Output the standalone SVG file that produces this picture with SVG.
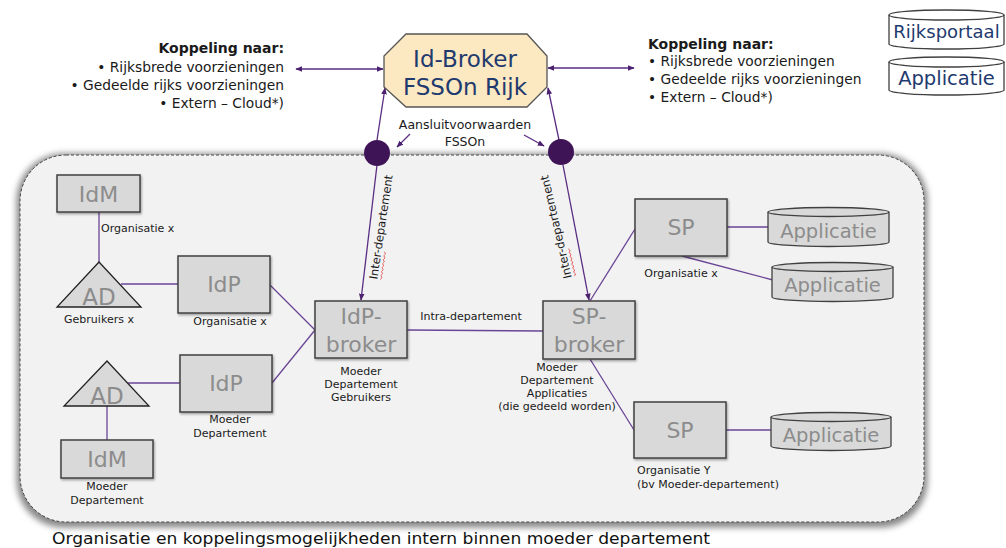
<svg xmlns="http://www.w3.org/2000/svg" width="1006" height="548" viewBox="0 0 1006 548">
<defs>
<filter id="sh" x="-5%" y="-5%" width="110%" height="115%">
<feMorphology in="SourceAlpha" operator="dilate" radius="3" result="d"/>
<feGaussianBlur in="d" stdDeviation="3" result="b"/>
<feOffset in="b" dx="0" dy="2" result="o"/>
<feFlood flood-color="#7a7a7a" flood-opacity="0.9"/>
<feComposite in2="o" operator="in" result="s"/>
<feMerge><feMergeNode in="s"/><feMergeNode in="SourceGraphic"/></feMerge>
</filter>
<filter id="bs" x="-10%" y="-10%" width="125%" height="130%">
<feDropShadow dx="1" dy="1.5" stdDeviation="1" flood-color="#000" flood-opacity="0.35"/>
</filter>
<marker id="ah" viewBox="0 0 10 10" refX="9" refY="5" markerWidth="7" markerHeight="7" orient="auto-start-reverse" markerUnits="userSpaceOnUse">
<path d="M0,1 L10,5 L0,9 Z" fill="#4B2170"/>
</marker>
</defs>
<style>
.box{fill:#D9D9D9;stroke:#404040;stroke-width:1.5;filter:url(#bs)}
.big{font-family:"DejaVu Sans",Verdana,sans-serif;font-size:22px;fill:#8C8C8C;text-anchor:middle}
.app{font-family:"DejaVu Sans",Verdana,sans-serif;font-size:19.5px;fill:#8C8C8C;text-anchor:middle}
.lbl{font-family:"DejaVu Sans",Verdana,sans-serif;font-size:11px;fill:#1a1a1a;text-anchor:middle}
.txt{font-family:"DejaVu Sans",Verdana,sans-serif;font-size:13.8px;fill:#1a1a1a}
.hd{font-weight:bold;font-size:14px}
.ln{stroke:#6A4596;stroke-width:1.3;fill:none}
.ar{stroke:#5A2D82;stroke-width:1.3;fill:none}
.cyl{fill:#D9D9D9;stroke:#404040;stroke-width:1.3}
.navy{font-family:"DejaVu Sans",Verdana,sans-serif;fill:#1F3A6E;text-anchor:middle}
.sq{stroke:#E04848;stroke-width:0.8;fill:none}
</style>

<!-- container -->
<rect id="container" x="20" y="155" width="904" height="367" rx="46" ry="46" fill="#F2F2F2" stroke="#444" stroke-width="1" stroke-dasharray="3,2" filter="url(#sh)"/>

<!-- top texts -->
<g id="left-text" class="txt" text-anchor="end">
<text class="hd" x="284" y="53">Koppeling naar:</text>
<text x="284" y="72">• Rijksbrede voorzieningen</text>
<text x="284" y="90">• Gedeelde rijks voorzieningen</text>
<text x="284" y="108">• Extern – Cloud*)</text>
</g>
<g id="right-text" class="txt">
<text class="hd" x="648" y="49">Koppeling naar:</text>
<text x="648" y="66">• Rijksbrede voorzieningen</text>
<text x="648" y="84">• Gedeelde rijks voorzieningen</text>
<text x="648" y="102">• Extern – Cloud*)</text>
</g>

<g id="legend-rijksportaal">
<path class="cyl" d="M889,15 L889,44 A57.5,5 0 0 0 1004,44 L1004,15" style="fill:#fff"/>
<ellipse cx="946.5" cy="15" rx="57.5" ry="5" fill="#fff" stroke="#404040" stroke-width="1.3"/>
<text class="navy" x="946.5" y="38" style="font-size:18px">Rijksportaal</text>
</g>
<g id="legend-applicatie">
<path class="cyl" d="M889,62 L889,90 A57.5,5 0 0 0 1004,90 L1004,62" style="fill:#fff"/>
<ellipse cx="946.5" cy="62" rx="57.5" ry="5" fill="#fff" stroke="#404040" stroke-width="1.3"/>
<text class="navy" x="946.5" y="85" style="font-size:19.5px">Applicatie</text>
</g>

<!-- connectors -->
<g id="connectors">
<line class="ar" x1="296" y1="69" x2="383" y2="69" marker-start="url(#ah)" marker-end="url(#ah)"/>
<line class="ar" x1="548" y1="68" x2="634" y2="68" marker-start="url(#ah)" marker-end="url(#ah)"/>
<line class="ar" x1="377" y1="140" x2="385" y2="88" marker-end="url(#ah)"/>
<line class="ar" x1="559" y1="140" x2="548" y2="88" marker-end="url(#ah)"/>
<line class="ar" x1="410" y1="134" x2="397" y2="147" marker-end="url(#ah)"/>
<line class="ar" x1="524" y1="135" x2="544" y2="146" marker-end="url(#ah)"/>
<line class="ar" x1="377" y1="165" x2="361" y2="300" marker-end="url(#ah)"/>
<line class="ar" x1="563" y1="165" x2="589" y2="300" marker-end="url(#ah)"/>
<line class="ln" x1="99" y1="212" x2="99" y2="262"/>
<line class="ln" x1="121" y1="284" x2="178" y2="284"/>
<line class="ln" x1="270" y1="285" x2="315" y2="330"/>
<line class="ln" x1="272" y1="383" x2="315" y2="330"/>
<line class="ln" x1="128" y1="383" x2="180" y2="383"/>
<line class="ln" x1="107" y1="406" x2="107" y2="440"/>
<line class="ln" x1="407" y1="330" x2="543" y2="331"/>
<line class="ln" x1="590" y1="301" x2="635" y2="229"/>
<line class="ln" x1="727" y1="227" x2="768" y2="227"/>
<line class="ln" x1="682" y1="256" x2="773" y2="280"/>
<line class="ln" x1="590" y1="359" x2="634" y2="430"/>
<line class="ln" x1="726" y1="430" x2="771" y2="430"/>
</g>

<!-- broker -->
<g id="id-broker">
<polygon points="406,34 527,34 547,56 547,87 527,107 406,107 384,87 384,56" fill="#FCE8C1" stroke="#555" stroke-width="1.3"/>
<text class="navy" x="465" y="67" style="font-size:23px">Id-Broker</text>
<text class="navy" x="465" y="95" style="font-size:23px">FSSOn Rijk</text>
</g>

<g id="aansluit-label" class="txt" text-anchor="middle">
<text x="465" y="129" style="font-size:12.5px">Aansluitvoorwaarden</text>
<text x="465" y="146" style="font-size:12.5px">FSSOn</text>
</g>

<g id="circle-left"><circle cx="377" cy="153" r="13" fill="#3E1457"/></g>
<g id="circle-right"><circle cx="561" cy="152" r="13" fill="#3E1457"/></g>

<g id="inter-label-left" transform="translate(381,227) rotate(-81.5)">
<text class="lbl" y="4" style="font-size:11.5px">Inter-departement</text>
<path class="sq" d="M-52,7 l2,1.5 l2,-1.5 l2,1.5 l2,-1.5 l2,1.5 l2,-1.5 l2,1.5 l2,-1.5 l2,1.5 l2,-1.5 l2,1.5 l2,-1.5 l2,1.5 l2,-1.5"/>
</g>
<g id="inter-label-right" transform="translate(556,227) rotate(-103)">
<text class="lbl" y="4" style="font-size:11.5px">Inter-departement</text>
<path class="sq" d="M-52,7 l2,1.5 l2,-1.5 l2,1.5 l2,-1.5 l2,1.5 l2,-1.5 l2,1.5 l2,-1.5 l2,1.5 l2,-1.5 l2,1.5 l2,-1.5 l2,1.5 l2,-1.5"/>
</g>

<!-- left side nodes -->
<g id="idm1"><rect class="box" x="57" y="175" width="83" height="37"/><text class="big" x="98.5" y="202">IdM</text></g>
<g id="ad1"><polygon points="99,262 141,307 57,307" fill="#D9D9D9" stroke="#222" stroke-width="1.3"/><text class="big" x="99" y="305" style="font-size:23px">AD</text></g>
<g id="idp1"><rect class="box" x="178" y="256" width="92" height="57"/><text class="big" x="224" y="292">IdP</text></g>
<g id="idp2"><rect class="box" x="180" y="355" width="92" height="57"/><text class="big" x="226" y="391">IdP</text></g>
<g id="ad2"><polygon points="107,361 149,406 64,406" fill="#D9D9D9" stroke="#222" stroke-width="1.3"/><text class="big" x="107" y="404" style="font-size:23px">AD</text></g>
<g id="idm2"><rect class="box" x="61" y="440" width="92" height="38"/><text class="big" x="107" y="467">IdM</text></g>

<g id="left-labels" class="lbl">
<text x="101" y="232" text-anchor="start">Organisatie x</text>
<text x="99" y="323">Gebruikers x</text>
<text x="230" y="325">Organisatie x</text>
<text x="230" y="423">Moeder</text>
<text x="230" y="437">Departement</text>
<text x="107" y="490">Moeder</text>
<text x="107" y="504">Departement</text>
</g>

<g id="idp-broker"><rect class="box" x="315" y="301" width="92" height="57"/><text class="big" x="361" y="324">IdP-</text><text class="big" x="361" y="352">broker</text></g>
<g id="sp-broker"><rect class="box" x="543" y="301" width="92" height="58"/><text class="big" x="589" y="324">SP-</text><text class="big" x="589" y="352">broker</text></g>

<g id="mid-labels" class="lbl">
<text x="361" y="375">Moeder</text>
<text x="361" y="388">Departement</text>
<text x="361" y="401">Gebruikers</text>
<text x="471" y="320">Intra-departement</text>
<text x="557" y="371">Moeder</text>
<text x="557" y="384">Departement</text>
<text x="557" y="397">Applicaties</text>
<text x="557" y="410">(die gedeeld worden)</text>
</g>

<g id="sp1"><rect class="box" x="635" y="199" width="92" height="57"/><text class="big" x="681" y="235">SP</text></g>
<g id="sp2"><rect class="box" x="634" y="402" width="92" height="56"/><text class="big" x="680" y="438">SP</text></g>

<g id="app1">
<path class="cyl" d="M768,212 L768,242 A60.5,4.5 0 0 0 889,242 L889,212"/>
<ellipse cx="828.5" cy="212" rx="60.5" ry="4.5" fill="#D9D9D9" stroke="#404040" stroke-width="1.3"/>
<text class="app" x="828.5" y="238">Applicatie</text>
</g>
<g id="app2">
<path class="cyl" d="M772,267 L772,297 A60.5,4.5 0 0 0 893,297 L893,267"/>
<ellipse cx="832.5" cy="267" rx="60.5" ry="4.5" fill="#D9D9D9" stroke="#404040" stroke-width="1.3"/>
<text class="app" x="832.5" y="292">Applicatie</text>
</g>
<g id="app3">
<path class="cyl" d="M771,417 L771,446 A60,4.5 0 0 0 891,446 L891,417"/>
<ellipse cx="831" cy="417" rx="60" ry="4.5" fill="#D9D9D9" stroke="#404040" stroke-width="1.3"/>
<text class="app" x="831" y="442">Applicatie</text>
</g>

<g id="right-labels" class="lbl">
<text x="681" y="277">Organisatie x</text>
<text x="637" y="474" text-anchor="start">Organisatie Y</text>
<text x="637" y="488" text-anchor="start">(bv Moeder-departement)</text>
</g>

<text id="caption" x="52" y="544" font-family="DejaVu Sans, Verdana, sans-serif" font-size="15.5px" fill="#111" textLength="658" lengthAdjust="spacingAndGlyphs">Organisatie en koppelingsmogelijkheden intern binnen moeder departement</text>
</svg>
